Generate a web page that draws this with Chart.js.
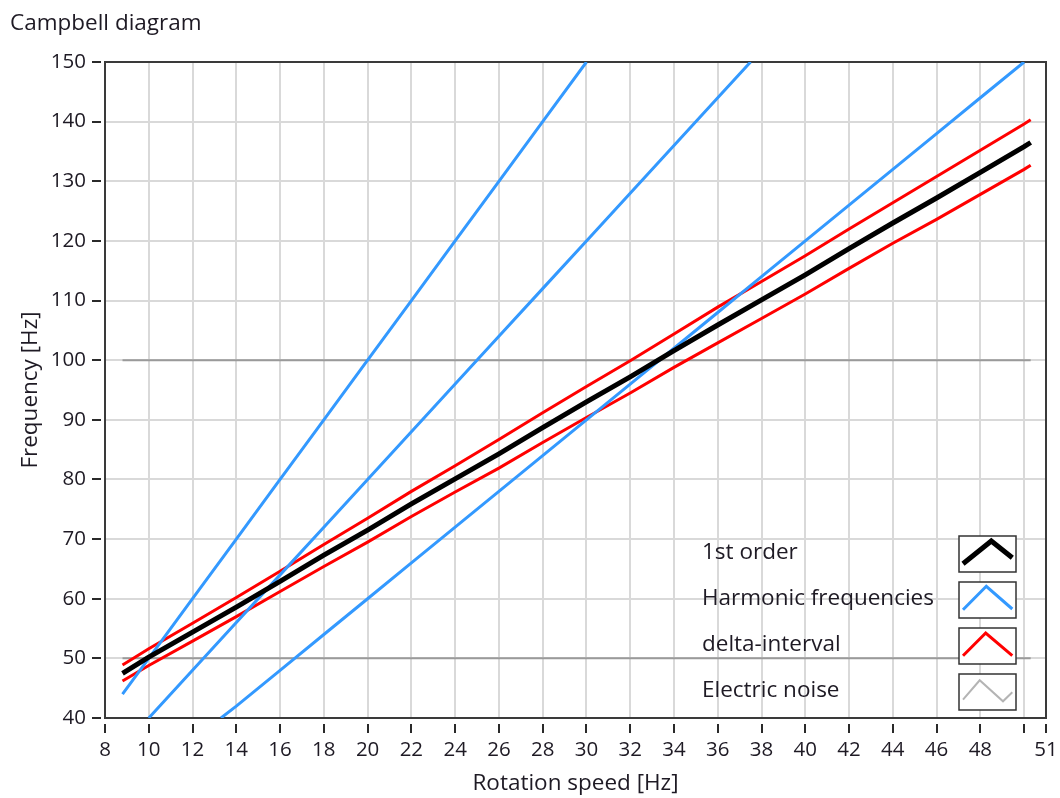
<!DOCTYPE html>
<html>
<head>
<meta charset="utf-8">
<title>Campbell diagram</title>
<script src="https://cdn.jsdelivr.net/npm/chart.js@4/dist/chart.umd.min.js"></script>
<style>
  html, body { margin: 0; padding: 0; background: #ffffff; }
  #wrap { position: relative; width: 1060px; height: 798px; }
</style>
</head>
<body>
<div id="wrap"><canvas id="chart" width="1060" height="798"></canvas></div>
<script>
// Rotation speed samples [Hz] for the order line and its tolerance band
const speed = [8.8, 10, 12, 14, 16, 18, 20, 22, 24, 26, 28, 30, 32, 34, 36, 38, 40, 42, 44, 46, 48, 50, 50.3];
const firstOrder = [47.5, 50.2, 54.4, 58.6, 62.9, 67.3, 71.5, 75.9, 80.1, 84.3, 88.7, 93.0, 97.2, 101.6, 105.9, 110.1, 114.3, 118.7, 123.0, 127.2, 131.5, 135.8, 136.5];
const deltaUpper = [48.9, 51.6, 55.9, 60.2, 64.6, 69.1, 73.5, 78.0, 82.3, 86.7, 91.2, 95.6, 99.9, 104.4, 108.9, 113.2, 117.5, 122.0, 126.4, 130.8, 135.2, 139.6, 140.3];
const deltaLower = [46.2, 48.8, 52.9, 57.0, 61.2, 65.4, 69.5, 73.8, 77.9, 81.9, 86.2, 90.4, 94.5, 98.8, 102.9, 107.0, 111.1, 115.4, 119.6, 123.6, 127.8, 132.0, 132.7];

// Harmonic frequency lines
const harmA_speed = [8.8, 10, 12, 14, 16, 18, 20, 22, 24, 26, 28, 30];
const harmA_freq  = [44, 50, 60, 70, 80, 90, 100, 110, 120, 130, 140, 150];
const harmB_speed = [10, 12, 14, 16, 18, 20, 22, 24, 26, 28, 30, 32, 34, 36, 37.5];
const harmB_freq  = [40, 48, 56, 64, 72, 80, 88, 96, 104, 112, 120, 128, 136, 144, 150];
const harmC_speed = [13.3, 14, 16, 18, 20, 22, 24, 26, 28, 30, 32, 34, 36, 38, 40, 42, 44, 46, 48, 50];
const harmC_freq  = [40, 42, 48, 54, 60, 66, 72, 78, 84, 90, 96, 102, 108, 114, 120, 126, 132, 138, 144, 150];

// Electric noise lines (two mains-related frequencies)
const noiseSpeed = [8.8, 50.3, 50.3, 8.8, 50.3];
const noiseFreq  = [100, 100, null, 50, 50];

// Axis ticks
const xTicks = [8, 10, 12, 14, 16, 18, 20, 22, 24, 26, 28, 30, 32, 34, 36, 38, 40, 42, 44, 46, 48, 50, 51];
const xHiddenLabels = [50];
const yTicks = [40, 50, 60, 70, 80, 90, 100, 110, 120, 130, 140, 150];

const legendNames = ['1st order', 'Harmonic frequencies', 'delta-interval', 'Electric noise'];

const FONT = '"Open Sans", "Noto Sans", "DejaVu Sans", sans-serif';
const TEXT = '#1e1a24';
const BLACK = '#000000';
const BLUE = '#3399ff';
const RED = '#ff0000';
const GRAY = '#9a9a9a';
const LABEL_SIZE = 22.5;
const TICK_SIZE = 20.5;

function pts(xs, ys) { return xs.map((x, i) => ({ x: x, y: ys[i] })); }

const lineBase = { pointRadius: 0, pointHoverRadius: 0, tension: 0, fill: false, spanGaps: false };

const datasets = [
  Object.assign({ label: legendNames[0], data: pts(speed, firstOrder), borderColor: BLACK, borderWidth: 5 }, lineBase),
  Object.assign({ label: legendNames[1], data: pts(harmA_speed, harmA_freq), borderColor: BLUE, borderWidth: 3 }, lineBase),
  Object.assign({ label: legendNames[1], data: pts(harmB_speed, harmB_freq), borderColor: BLUE, borderWidth: 3 }, lineBase),
  Object.assign({ label: legendNames[1], data: pts(harmC_speed, harmC_freq), borderColor: BLUE, borderWidth: 3 }, lineBase),
  Object.assign({ label: legendNames[2], data: pts(speed, deltaUpper), borderColor: RED, borderWidth: 3 }, lineBase),
  Object.assign({ label: legendNames[2], data: pts(speed, deltaLower), borderColor: RED, borderWidth: 3 }, lineBase),
  Object.assign({ label: legendNames[3], data: pts(noiseSpeed, noiseFreq), borderColor: GRAY, borderWidth: 2 }, lineBase)
];

// Frame around the plot plus detached tick marks
const framePlugin = {
  id: 'frame',
  beforeDatasetsDraw(chart) {
    const ctx = chart.ctx, a = chart.chartArea;
    const xs = chart.scales.x, ys = chart.scales.y;
    ctx.save();
    ctx.strokeStyle = '#3a3a3a';
    ctx.lineWidth = 2;
    ctx.strokeRect(a.left, a.top, a.right - a.left, a.bottom - a.top);
    ctx.strokeStyle = '#2a2a2a';
    ctx.lineWidth = 2;
    ctx.beginPath();
    xTicks.forEach(v => {
      const px = Math.round(xs.getPixelForValue(v));
      ctx.moveTo(px, a.bottom + 6);
      ctx.lineTo(px, a.bottom + 15);
    });
    yTicks.forEach(v => {
      const py = Math.round(ys.getPixelForValue(v));
      ctx.moveTo(a.left - 13, py);
      ctx.lineTo(a.left - 4, py);
    });
    ctx.stroke();
    ctx.restore();
  }
};

// Chart title and the boxed legend in the lower right
const legendPlugin = {
  id: 'boxLegend',
  afterDatasetsDraw(chart) {
    const ctx = chart.ctx;
    ctx.save();
    ctx.fillStyle = TEXT;
    ctx.font = LABEL_SIZE + 'px ' + FONT;
    ctx.textBaseline = 'middle';
    ctx.textAlign = 'left';
    ctx.fillText('Campbell diagram', 10, 24);

    const entries = [
      { name: legendNames[0], color: BLACK, width: 5, shape: [[4, 27.7], [32.3, 5], [53.3, 21.7]] },
      { name: legendNames[1], color: BLUE, width: 3, shape: [[4, 27.7], [27.3, 4.3], [53.3, 27]] },
      { name: legendNames[2], color: RED, width: 3, shape: [[4, 27.7], [26.7, 5], [53.3, 27.7]] },
      { name: legendNames[3], color: '#b4b4b4', width: 2, shape: [[4, 25.7], [20.7, 6.3], [44, 27.3], [53.3, 18.3]] }
    ];
    const boxX = 959, boxW = 57, boxH = 36, top0 = 536, step = 46;
    entries.forEach((e, i) => {
      const by = top0 + i * step;
      ctx.fillStyle = '#ffffff';
      ctx.fillRect(boxX, by, boxW, boxH);
      ctx.strokeStyle = '#333333';
      ctx.lineWidth = 1.5;
      ctx.strokeRect(boxX, by, boxW, boxH);
      ctx.save();
      ctx.beginPath();
      ctx.rect(boxX + 1, by + 1, boxW - 2, boxH - 2);
      ctx.clip();
      ctx.strokeStyle = e.color;
      ctx.lineWidth = e.width;
      ctx.lineJoin = 'miter';
      ctx.beginPath();
      e.shape.forEach((p, k) => {
        if (k === 0) ctx.moveTo(boxX + p[0], by + p[1]);
        else ctx.lineTo(boxX + p[0], by + p[1]);
      });
      ctx.stroke();
      ctx.restore();
      ctx.fillStyle = TEXT;
      ctx.font = LABEL_SIZE + 'px ' + FONT;
      ctx.fillText(e.name, 702, by + 17);
    });
    ctx.restore();
  }
};

new Chart(document.getElementById('chart'), {
  type: 'line',
  data: { datasets: datasets },
  plugins: [framePlugin, legendPlugin],
  options: {
    responsive: false,
    animation: false,
    parsing: true,
    layout: { padding: { top: 62, right: 14, bottom: 0, left: 0 } },
    plugins: {
      legend: { display: false },
      title: { display: false },
      tooltip: { enabled: false }
    },
    scales: {
      x: {
        type: 'linear',
        min: 8,
        max: 51,
        afterBuildTicks: s => { s.ticks = xTicks.map(v => ({ value: v })); },
        afterFit: s => { s.height = 80; s.paddingLeft = 0; s.paddingRight = 0; },
        grid: { color: '#d9d9d9', lineWidth: 2, drawTicks: false },
        border: { display: false },
        ticks: {
          autoSkip: false,
          maxRotation: 0,
          padding: 20,
          color: TEXT,
          font: { family: FONT, size: TICK_SIZE },
          callback: v => xHiddenLabels.includes(v) ? '' : String(v)
        },
        title: {
          display: true,
          text: 'Rotation speed [Hz]',
          color: TEXT,
          font: { family: FONT, size: LABEL_SIZE },
          padding: { top: 0, bottom: 1 }
        }
      },
      y: {
        type: 'linear',
        min: 40,
        max: 150,
        afterBuildTicks: s => { s.ticks = yTicks.map(v => ({ value: v })); },
        afterFit: s => { s.width = 105; },
        grid: { color: '#d9d9d9', lineWidth: 2, drawTicks: false },
        border: { display: false },
        ticks: {
          padding: 19,
          color: TEXT,
          font: { family: FONT, size: TICK_SIZE }
        },
        title: {
          display: true,
          text: 'Frequency [Hz]',
          color: TEXT,
          font: { family: FONT, size: LABEL_SIZE },
          padding: { top: 17, bottom: 0 }
        }
      }
    }
  }
});
</script>
</body>
</html>
